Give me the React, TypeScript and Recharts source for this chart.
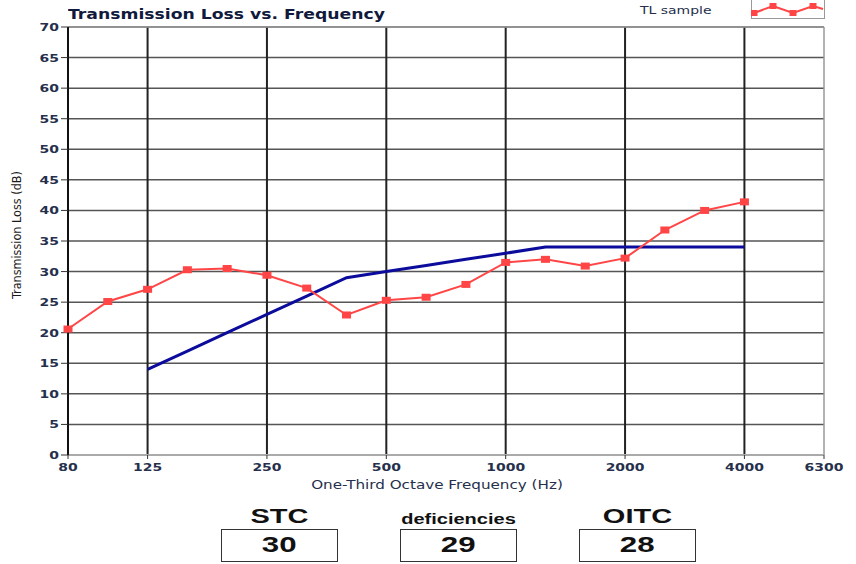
import { LineChart, Line, XAxis, YAxis, CartesianGrid, ReferenceLine, Legend } from 'recharts';

const FREQS = ['80', '100', '125', '160', '200', '250', '315', '400', '500', '630', '800', '1000', '1250', '1600', '2000', '2500', '3150', '4000', '5000', '6300'];
const TL_SAMPLE = [20.6, 25.1, 27.1, 30.3, 30.5, 29.4, 27.3, 22.9, 25.3, 25.8, 27.9, 31.5, 32.0, 30.9, 32.2, 36.8, 40.0, 41.4, null, null];
const STC_CONTOUR = [null, null, 14, 17, 20, 23, 26, 29, 30, 31, 32, 33, 34, 34, 34, 34, 34, 34, null, null];
const X_TICKS = [0, 2, 5, 8, 11, 14, 17, 19];
const OCTAVE_LINES = [2, 5, 8, 11, 14, 17];
const Y_TICKS = [0, 5, 10, 15, 20, 25, 30, 35, 40, 45, 50, 55, 60, 65, 70];

const RATINGS = [
  { label: 'STC', value: '30', small: false },
  { label: 'deficiencies', value: '29', small: true },
  { label: 'OITC', value: '28', small: false },
];

const data = FREQS.map((f, i) => ({ idx: i, freq: f, tl: TL_SAMPLE[i], stc: STC_CONTOUR[i] }));

// the original render is stretched sideways a bit, so text gets a horizontal scale
const STRETCH = 1.27;
const VERDANA = 'DejaVu Sans, Verdana, sans-serif';
const TEXT_COLOR = '#26304c';

function XTick({ x, y, payload }: { x?: number; y?: number; payload?: { value: number } }) {
  return (
    <text
      transform={`translate(${x},${(y ?? 0) + 10}) scale(${STRETCH},1)`}
      textAnchor="middle"
      fontFamily={VERDANA}
      fontSize={11}
      fontWeight={700}
      fill={TEXT_COLOR}
    >
      {FREQS[payload?.value ?? 0]}
    </text>
  );
}

function YTick({ x, y, payload }: { x?: number; y?: number; payload?: { value: number } }) {
  return (
    <text
      transform={`translate(${x},${(y ?? 0) + 4}) scale(${STRETCH},1)`}
      textAnchor="end"
      fontFamily={VERDANA}
      fontSize={11}
      fontWeight={700}
      fill={TEXT_COLOR}
    >
      {payload?.value}
    </text>
  );
}

function SquareDot(props: { cx?: number; cy?: number; value?: number | null; index?: number }) {
  const { cx, cy, value, index } = props;
  if (value == null || cx == null || cy == null) return <g key={index} />;
  return <rect key={index} x={cx - 4.5} y={cy - 3.5} width={9} height={7} fill="#ff4545" />;
}

function LegendBox() {
  return (
    <div style={{ position: 'absolute', left: 640, top: 0, display: 'flex', alignItems: 'flex-start' }}>
      <span
        style={{
          fontFamily: VERDANA,
          fontSize: 11,
          color: TEXT_COLOR,
          marginTop: 4,
          width: 111,
          display: 'inline-block',
          transform: `scaleX(${STRETCH})`,
          transformOrigin: 'left',
          whiteSpace: 'nowrap',
        }}
      >
        TL sample
      </span>
      <svg width={74} height={19} style={{ display: 'block' }}>
        <rect x={0.5} y={-1} width={73} height={19.5} fill="#fff" stroke="#999" />
        <polyline points="3,13 22,6 42,13 62,6 72,9" fill="none" stroke="#ff4545" strokeWidth={2} />
        {[[3, 13], [22, 6], [42, 13], [62, 6]].map(([x, y], i) => (
          <rect key={i} x={x - 3.5} y={y - 3} width={7} height={6} fill="#ff4545" />
        ))}
      </svg>
    </div>
  );
}

export default function App() {
  return (
    <div style={{ position: 'absolute', left: 0, top: 0, width: 856, height: 564, background: '#fff', overflow: 'hidden' }}>
      <div
        style={{
          position: 'absolute',
          left: 68,
          top: 6,
          fontFamily: VERDANA,
          fontWeight: 700,
          fontSize: 14,
          color: '#111a3c',
          lineHeight: '16px',
          whiteSpace: 'nowrap',
          transform: 'scaleX(1.23)',
          transformOrigin: 'left',
        }}
      >
        Transmission Loss vs. Frequency
      </div>
      <LineChart width={856} height={500} data={data} margin={{ top: 27, right: 32, left: 28, bottom: 15 }}>
        <CartesianGrid vertical={false} stroke="#555" strokeWidth={1.5} />
        {OCTAVE_LINES.map((x) => (
          <ReferenceLine key={x} x={x} stroke="#222" strokeWidth={2} />
        ))}
        <ReferenceLine y={70} stroke="#999" strokeWidth={1.5} />
        <ReferenceLine x={19} stroke="#999" strokeWidth={1.5} />
        <XAxis
          dataKey="idx"
          type="number"
          domain={[0, 19]}
          ticks={X_TICKS}
          tick={<XTick />}
          tickSize={4}
          tickLine={{ stroke: '#333' }}
          axisLine={{ stroke: '#aaa', strokeWidth: 2 }}
          height={30}
        />
        <YAxis
          type="number"
          domain={[0, 70]}
          ticks={Y_TICKS}
          interval={0}
          tick={<YTick />}
          tickSize={7}
          tickLine={{ stroke: '#333' }}
          axisLine={{ stroke: '#111', strokeWidth: 2 }}
          width={40}
          label={{
            value: 'Transmission Loss (dB)',
            angle: -90,
            position: 'insideLeft',
            offset: -11,
            dy: 58,
            style: { fontFamily: 'DejaVu Sans Condensed, Arial Narrow, sans-serif', fontSize: 12.5, fill: '#1a1a1a' },
          }}
        />
        <Legend content={() => <LegendBox />} wrapperStyle={{ position: 'absolute', left: 0, top: 0, width: 0, height: 0 }} />
        <Line
          dataKey="stc"
          stroke="#0c0c9c"
          strokeWidth={3}
          dot={false}
          activeDot={false}
          connectNulls={false}
          isAnimationActive={false}
          legendType="none"
        />
        <Line
          dataKey="tl"
          name="TL sample"
          stroke="#ff4545"
          strokeWidth={2}
          dot={<SquareDot />}
          activeDot={false}
          isAnimationActive={false}
        />
      </LineChart>
      <div
        style={{
          position: 'absolute',
          left: 437,
          top: 478,
          fontFamily: VERDANA,
          fontSize: 11.5,
          color: TEXT_COLOR,
          whiteSpace: 'nowrap',
          transform: 'translateX(-50%) scaleX(1.32)',
          lineHeight: '14px',
        }}
      >
        One-Third Octave Frequency (Hz)
      </div>
      {RATINGS.map((r, i) => (
        <div key={r.label} style={{ position: 'absolute', left: 221 + i * 179, top: 504, width: 117, textAlign: 'center' }}>
          <div
            style={{
              fontFamily: 'Liberation Sans, Arial, sans-serif',
              fontWeight: 700,
              fontSize: r.small ? 14.5 : 21,
              lineHeight: '24px',
              height: 24,
              paddingTop: r.small ? 3 : 0,
              boxSizing: 'border-box',
              color: '#111',
              transform: 'scaleX(1.38)',
              whiteSpace: 'nowrap',
            }}
          >
            {r.label}
          </div>
          <div
            style={{
              marginTop: 1,
              border: '1.5px solid #333',
              height: 33,
              boxSizing: 'border-box',
              fontFamily: 'Liberation Sans, Arial, sans-serif',
              fontWeight: 700,
              fontSize: 22,
              lineHeight: '30px',
              color: '#111',
            }}
          >
            <span style={{ display: 'inline-block', transform: 'scaleX(1.42)' }}>{r.value}</span>
          </div>
        </div>
      ))}
    </div>
  );
}
